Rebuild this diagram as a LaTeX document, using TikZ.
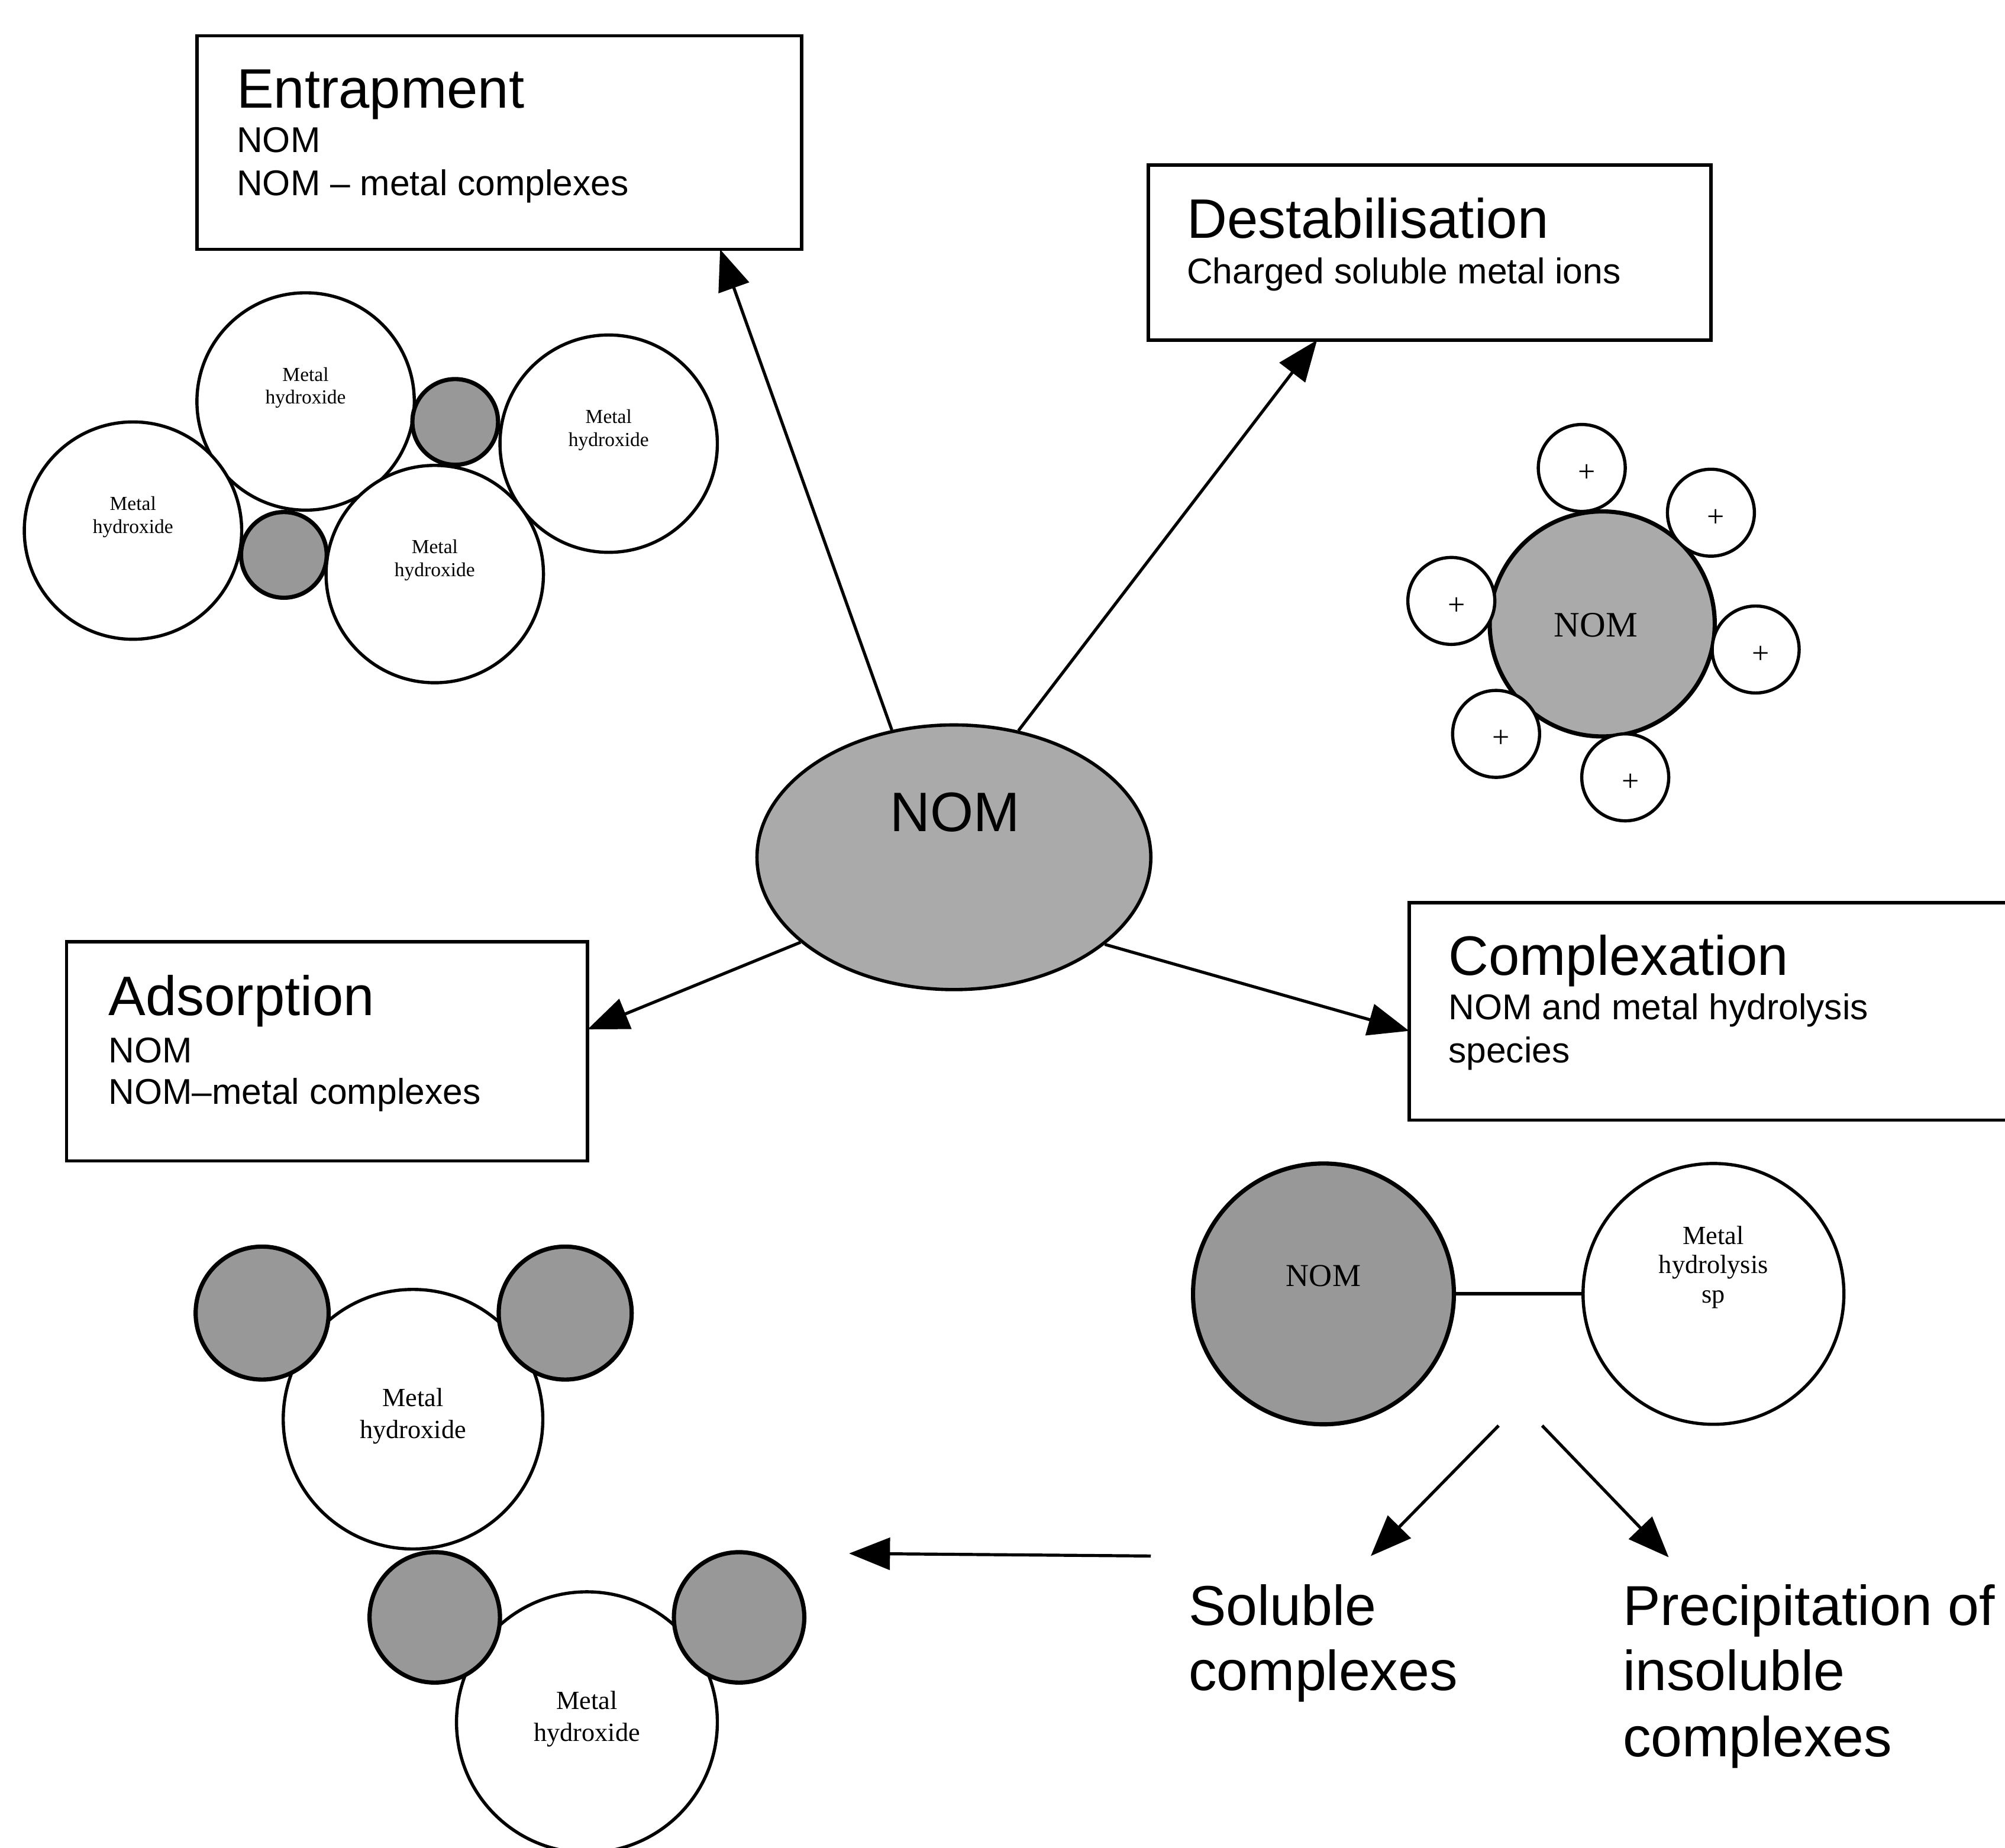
\documentclass[tikz,border=0pt]{standalone}
\usepackage{fontspec}
\setmainfont{Liberation Sans}
\newfontfamily\tms{Liberation Serif}
\usetikzlibrary{arrows.meta,shapes.geometric,calc}
\definecolor{nomgray}{RGB}{170,170,170}
\definecolor{dotgray}{RGB}{152,152,152}
\begin{document}
\begin{tikzpicture}[x=1pt,y=-1pt,
  box/.style={draw=black, line width=2.5pt, rectangle, inner sep=0pt, outer sep=0pt},
  arr/.style={line width=2.4pt, -{Triangle[length=32pt,width=25pt]}},
  wc/.style={circle, draw, line width=2.5pt, fill=white, inner sep=0pt, outer sep=0pt},
  gc/.style={circle, draw, line width=3.3pt, fill=dotgray, inner sep=0pt, outer sep=0pt},
  title/.style={anchor=base west, inner sep=0pt, font=\fontsize{43.5}{50}\selectfont},
  sub/.style={anchor=base west, inner sep=0pt, font=\fontsize{28}{34}\selectfont},
  big/.style={anchor=base west, inner sep=0pt, font=\fontsize{44}{51}\selectfont},
  lab/.style={anchor=base, inner sep=0pt, font=\tms\fontsize{15.5}{18}\selectfont},
  labL/.style={anchor=base, inner sep=0pt, font=\tms\fontsize{20.5}{24}\selectfont},
  plus/.style={anchor=center, inner sep=0pt, font=\tms\fontsize{24}{24}\selectfont},
]
\clip (0,0) rectangle (1568,1445);
\fill[white] (0,0) rectangle (1568,1445);

% boxes
\node[box, minimum width=473pt, minimum height=167pt, anchor=north west] (entbox) at (154,28) {};
\node[box, minimum width=440pt, minimum height=137pt, anchor=north west] (destbox) at (898,129) {};
\node[box, minimum width=407.5pt, minimum height=171.5pt, anchor=north west] (adsbox) at (52,736.5) {};
\node[box, minimum width=520pt, minimum height=170pt, anchor=north west] (compbox) at (1102,706) {};

\node[title] (entT) at (185,84.3) {Entrapment};
\node[sub] (entA) at (185,119) {NOM};
\node[sub] (entB) at (185,153) {NOM – metal complexes};
\node[title] (destT) at (928,186) {Destabilisation};
\node[sub] (destA) at (928,221.7) {Charged soluble metal ions};
\node[title] (adsT) at (84.7,794.3) {Adsorption};
\node[sub] (adsA) at (84.7,831.3) {NOM};
\node[sub] (adsB) at (84.7,863.7) {NOM–metal complexes};
\node[title] (compT) at (1132.6,762.6) {Complexation};
\node[sub] (compA) at (1132.6,797.3) {NOM and metal hydrolysis};
\node[sub] (compB) at (1132.6,831) {species};

% central NOM
\node[ellipse, draw, line width=2.6pt, fill=nomgray, minimum width=308pt, minimum height=207pt, inner sep=0pt] (nom) at (746,670.5) {};
\node[anchor=base, inner sep=0pt, font=\fontsize{43.5}{50}\selectfont] (nomT) at (747,650.5) {NOM};

\draw[arr] (nom.116.6) -- ($(entbox.south west)!0.865!(entbox.south east)$);
\draw[arr] (nom.63.1) -- ($(destbox.south west)!0.30!(destbox.south east)$);
\draw[arr] (nom.209.6) -- ($(adsbox.north east)!0.40!(adsbox.south east)$);
\draw[arr] (nom.330.4) -- ($(compbox.north west)!0.59!(compbox.south west)$);

% entrapment cluster
\node[wc, minimum size=170pt] (ea) at (239,314) {};
\node[wc, minimum size=170pt] (eb) at (104,415) {};
\node[wc, minimum size=170pt] (ec) at (476,347) {};
\node[wc, minimum size=170pt] (ed) at (340,449) {};
\node[gc, minimum size=67pt] (ee) at (356,330) {};
\node[gc, minimum size=67pt] (ef) at (222,434) {};
\node[lab] (eaM) at (239,298) {Metal};
\node[lab] (eaH) at (239,316) {hydroxide};
\node[lab] (ebM) at (104,399) {Metal};
\node[lab] (ebH) at (104,417) {hydroxide};
\node[lab] (ecM) at (476,331) {Metal};
\node[lab] (ecH) at (476,349) {hydroxide};
\node[lab] (edM) at (340,433) {Metal};
\node[lab] (edH) at (340,451) {hydroxide};

% destabilisation cluster
\node[gc, fill=nomgray, minimum size=176pt] (dn) at (1253,488) {};
\node[anchor=base, inner sep=0pt, font=\tms\fontsize{28}{28}\selectfont] (dnT) at (1248,498) {NOM};
\foreach \n/\px/\py in {p1/1237/366, p2/1338/401, p3/1135/470, p4/1373/508, p5/1170/574, p6/1271/608}{
  \node[wc, minimum size=68pt] (\n) at (\px,\py) {};
  \node[plus] (\n t) at ($(\px,\py)+(4,4)$) {+};
}

% complexation
\node[gc, minimum size=204pt] (cn) at (1035,1012) {};
\node[wc, minimum size=204pt] (cm) at (1340,1012) {};
\draw[line width=2.8pt] (cn.east) -- (cm.west);
\node[anchor=base, inner sep=0pt, font=\tms\fontsize{25}{25}\selectfont] (cnT) at (1035,1006) {NOM};
\node[labL] (cmA) at (1340,973) {Metal};
\node[labL] (cmB) at (1340,996) {hydrolysis};
\node[labL] (cmC) at (1340,1019) {sp};

\coordinate (splitL) at (1172,1115);
\coordinate (solTip) at (1072,1217);
\coordinate (splitR) at (1206,1115);
\coordinate (preTip) at (1305,1218);
\coordinate (backS) at (900,1217);
\coordinate (backT) at (664,1215);
\draw[arr] (splitL) -- (solTip);
\draw[arr] (splitR) -- (preTip);
\draw[arr] (backS) -- (backT);

\node[big] (solA) at (929.5,1271) {Soluble};
\node[big] (solB) at (929.5,1322) {complexes};
\node[big] (preA) at (1269,1271) {Precipitation of};
\node[big] (preB) at (1269,1322) {insoluble};
\node[big] (preC) at (1269,1374) {complexes};

% adsorption cluster
\node[wc, minimum size=203pt] (ba) at (323,1110) {};
\node[wc, minimum size=204pt] (bb) at (459,1347) {};
\node[gc, minimum size=104pt] (g1) at (205,1027) {};
\node[gc, minimum size=104pt] (g2) at (442,1027) {};
\node[gc, minimum size=102pt] (g3) at (340,1265) {};
\node[gc, minimum size=102pt] (g4) at (578,1265) {};
\node[labL] (baM) at (323,1100) {Metal};
\node[labL] (baH) at (323,1125) {hydroxide};
\node[labL] (bbM) at (459,1337) {Metal};
\node[labL] (bbH) at (459,1362) {hydroxide};
\end{tikzpicture}
\end{document}
